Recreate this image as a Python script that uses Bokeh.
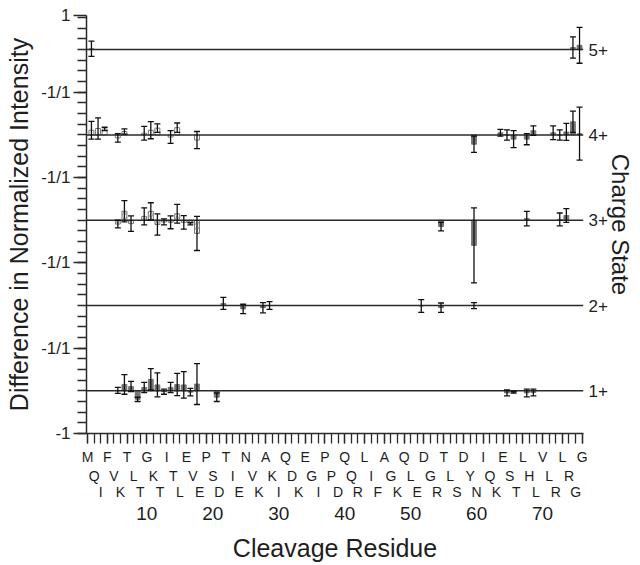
import numpy as np
from bokeh.plotting import figure
from bokeh.models import (Range1d, LinearAxis, FixedTicker, Span, Whisker,
                          TeeHead, ColumnDataSource)
from bokeh.embed import file_html
from bokeh.resources import INLINE

# ---------------- data ----------------
sequence = "MQIFVKTLTGKTITLEVEPSDTIENVKAKIQDKEGIPPDQQRLIFAGKQLEDGRTLSDYNIQKESTLHLVLRLRGG"
number_ticks = [10, 20, 30, 40, 50, 60, 70]
charge_labels = ["1+", "2+", "3+", "4+", "5+"]
y_ticks = [-1, 1, 3, 5, 7, 8.8]
y_tick_labels = ["-1", "-1/1", "-1/1", "-1/1", "-1/1", "1"]

z5_res = [1, 74, 75]
z5_val = [0.02, 0.05, 0.10]
z5_err = [0.18, 0.25, 0.42]

z4_res = [1, 2, 3, 5, 6, 9, 10, 11, 13, 14, 17,
          59, 63, 64, 65, 67, 68, 71, 72, 73, 74, 75]
z4_val = [0.11, 0.15, 0.14, -0.07, 0.08, 0.04, 0.11, 0.16, -0.05, 0.17, -0.12,
          -0.22, 0.05, 0.00, -0.10, -0.10, 0.10, 0.05, 0.00, 0.07, 0.31, 0.03]
z4_err = [0.21, 0.25, 0.04, 0.10, 0.06, 0.16, 0.20, 0.10, 0.15, 0.11, 0.20,
          0.19, 0.08, 0.12, 0.20, 0.13, 0.11, 0.16, 0.12, 0.20, 0.25, 0.62]

z3_res = [5, 6, 7, 9, 10, 11, 12, 13, 14, 15, 16, 17,
          54, 59, 67, 72, 73]
z3_val = [-0.09, 0.21, -0.08, 0.09, 0.21, -0.10, -0.04, -0.05, 0.15, -0.05, -0.08, -0.31,
          -0.15, -0.59, 0.04, 0.02, 0.11]
z3_err = [0.09, 0.25, 0.18, 0.20, 0.20, 0.25, 0.07, 0.15, 0.22, 0.16, 0.03, 0.40,
          0.10, 0.88, 0.17, 0.15, 0.16]

z2_res = [21, 24, 27, 28, 51, 54, 59]
z2_val = [0.05, -0.08, -0.05, 0.00, -0.01, -0.05, 0.00]
z2_err = [0.14, 0.11, 0.12, 0.09, 0.15, 0.11, 0.07]

z1_res = [5, 6, 7, 8, 9, 10, 11, 12, 13, 14, 15, 16, 17, 20,
          64, 65, 67, 68]
z1_val = [0.01, 0.15, 0.10, -0.20, 0.08, 0.27, 0.14, -0.02, 0.08, 0.15, 0.14, -0.03, 0.16, -0.15,
          -0.05, -0.03, -0.05, -0.04]
z1_err = [0.07, 0.23, 0.12, 0.05, 0.12, 0.25, 0.28, 0.06, 0.12, 0.26, 0.31, 0.09, 0.48, 0.10,
          0.07, 0.02, 0.09, 0.08]

series = [(z1_res, z1_val, z1_err), (z2_res, z2_val, z2_err), (z3_res, z3_val, z3_err),
          (z4_res, z4_val, z4_err), (z5_res, z5_val, z5_err)]

# ---------------- styling ----------------
FONT = "Liberation Sans"
TXT = "#1e1e1e"
LINE = "#2a2a2a"
OFFSET = 0.6      # cleavage site sits between residue r and r+1
PANEL = 2.0       # each charge-state panel spans -1..1

p = figure(width=640, height=565, x_range=Range1d(0.85, 76.2), y_range=Range1d(-1, 8.8),
           x_axis_type=None, y_axis_type=None, toolbar_location=None,
           output_backend="svg", min_border_left=86, min_border_right=57,
           min_border_top=15, min_border_bottom=132)
p.outline_line_color = None
p.background_fill_color = "white"
p.border_fill_color = "white"

for i in range(len(charge_labels)):
    p.add_layout(Span(location=i * PANEL, dimension="width",
                      line_color=LINE, line_width=1.5))

groups = {"open": dict(x=[], top=[], bottom=[]),
          "hatch": dict(x=[], top=[], bottom=[]),
          "fill": dict(x=[], top=[], bottom=[])}
wx, wup, wlo = [], [], []
for i, (res, val, err) in enumerate(series):
    base = i * PANEL
    for r, v, e in zip(res, val, err):
        if i == 3 and r <= 20:
            g = "open"
        elif i == 2 and r <= 20:
            g = "hatch"
        else:
            g = "fill"
        groups[g]["x"].append(r + OFFSET)
        groups[g]["top"].append(base + v)
        groups[g]["bottom"].append(base)
        wx.append(r + OFFSET)
        wup.append(base + v + e)
        wlo.append(base + v - e)

BW = 0.75
p.vbar(x="x", top="top", bottom="bottom", width=BW, source=ColumnDataSource(groups["open"]),
       fill_color="white", line_color="#7a7a7a", line_width=1)
p.vbar(x="x", top="top", bottom="bottom", width=BW, source=ColumnDataSource(groups["hatch"]),
       fill_color="white", line_color="#7a7a7a", line_width=1,
       hatch_pattern="/", hatch_color="#8a8a8a", hatch_scale=5, hatch_weight=0.8)
p.vbar(x="x", top="top", bottom="bottom", width=BW, source=ColumnDataSource(groups["fill"]),
       fill_color="#767676", line_color="#6a6a6a", line_width=0.8)

wsrc = ColumnDataSource(dict(x=wx, upper=wup, lower=wlo))
whisk = Whisker(base="x", upper="upper", lower="lower", source=wsrc, dimension="height",
                line_color="#111111", line_width=1.3, level="overlay",
                upper_head=TeeHead(size=6, line_color="#111111", line_width=1.3),
                lower_head=TeeHead(size=6, line_color="#111111", line_width=1.3))
p.add_layout(whisk)

def style_axis(ax, label_size):
    ax.major_label_text_font = FONT
    ax.major_label_text_font_size = label_size
    ax.major_label_text_color = TXT
    ax.axis_label_text_font = FONT
    ax.axis_label_text_font_size = "25px"
    ax.axis_label_text_font_style = "normal"
    ax.axis_label_text_color = TXT
    ax.axis_line_color = LINE
    ax.axis_line_width = 1.5
    ax.major_tick_line_color = LINE
    ax.minor_tick_line_color = LINE
    ax.major_tick_line_width = 1.3
    ax.minor_tick_line_width = 1.3
    ax.major_tick_in = 0
    ax.minor_tick_in = 0

def bare(ax):
    ax.axis_line_color = None
    ax.major_tick_line_color = None
    ax.minor_tick_line_color = None
    ax.major_tick_out = 0
    ax.minor_tick_out = 0

# left y axis
ymin = np.arange(-1, 8.8, 0.25).tolist()
yaxis = LinearAxis(ticker=FixedTicker(ticks=y_ticks, minor_ticks=ymin),
                   major_label_overrides=dict(zip(y_ticks, y_tick_labels)),
                   axis_label="Difference in Normalized Intensity")
style_axis(yaxis, "17px")
yaxis.major_tick_out = 13
yaxis.minor_tick_out = 9
yaxis.major_label_standoff = 3
yaxis.axis_label_standoff = 5
p.add_layout(yaxis, "left")

# right axis: charge states
rticks = [i * PANEL for i in range(len(charge_labels))]
raxis = LinearAxis(ticker=FixedTicker(ticks=rticks),
                   major_label_overrides=dict(zip(rticks, charge_labels)),
                   axis_label="Charge State")
style_axis(raxis, "17px")
raxis.axis_label_text_font_size = "24px"
bare(raxis)
raxis.major_label_standoff = 5
raxis.axis_label_standoff = -4
p.add_layout(raxis, "right")

# bottom: three rows of residue letters, then residue numbers
n = len(sequence)
residues = list(range(1, n + 1))
standoffs = [5, 0, -3]
for k in range(3):
    ticks = residues[k::3]
    letters = list(sequence[k::3])
    ax = LinearAxis(ticker=FixedTicker(ticks=ticks, minor_ticks=residues if k == 0 else []),
                    major_label_overrides=dict(zip(ticks, letters)))
    style_axis(ax, "14px")
    if k == 0:
        ax.major_tick_out = 10
        ax.minor_tick_out = 10
    else:
        bare(ax)
    ax.major_label_standoff = standoffs[k]
    p.add_layout(ax, "below")

nax = LinearAxis(ticker=FixedTicker(ticks=number_ticks), axis_label="Cleavage Residue")
style_axis(nax, "19px")
bare(nax)
nax.major_label_standoff = 4
nax.axis_label_standoff = 11
p.add_layout(nax, "below")

open("out.html", "w").write(file_html(p, INLINE))
